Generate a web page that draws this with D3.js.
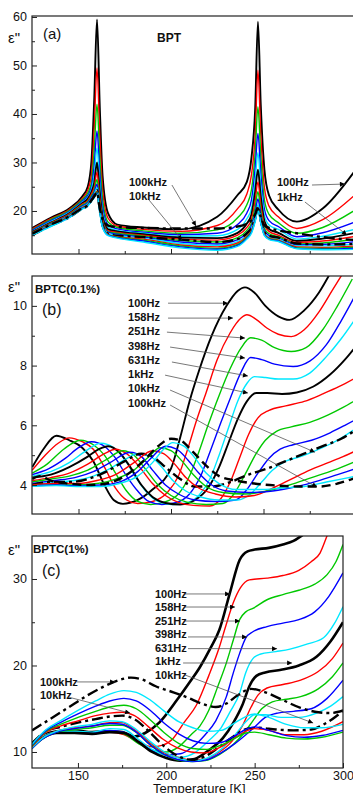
<!DOCTYPE html>
<html>
<head>
<meta charset="utf-8">
<script src="https://cdn.jsdelivr.net/npm/d3@7"></script>
<style>
  body { margin: 0; background: #fff; }
  svg { display: block; font-family: "Liberation Sans", Arial, sans-serif; }
  .tick text { font-size: 12.5px; fill: #111; }
  .note { font-size: 11px; font-weight: bold; fill: #111; }
</style>
</head>
<body>
<div id="app"></div>
<script>
// frequencies, same order in every panel
const freqs = ['100Hz', '158Hz', '251Hz', '398Hz', '631Hz', '1kHz', '1.58kHz', '2.51kHz',
  '3.98kHz', '6.31kHz', '10kHz', '15.8kHz', '25.1kHz', '39.8kHz', '63.1kHz', '100kHz'];
const palette = ['#000000', '#ff0000', '#00c800', '#0000ff', '#00e8ff'];

const xTicks = [150, 200, 250, 300];
const xMinor = [175, 225, 275];

// (a) BPT : shared temperature grid, one row of eps'' per frequency
const tempA = [125, 135, 145, 152, 155, 157, 158.5, 160, 161.5, 163, 166, 171, 185, 205, 225, 236,
  241, 243.5, 245.5, 247, 248.5, 250.5, 253, 258, 268, 282, 300];
const epsA = [
  [16.5, 18.6, 20.5, 23.0, 25, 30.3, 43, 59.5, 41.4, 27.3, 19.5, 17.2, 16.6, 16.2, 18.8, 23.3, 26, 31, 41, 59, 42, 28.5, 23.2, 20.3, 17.8, 20.5, 28.6],
  [16.3, 18.4, 20.3, 22.6, 24.3, 27.5, 37.2, 49.5, 35.5, 24.6, 18.5, 16.9, 16.2, 15.8, 17, 20.5, 23.5, 27.5, 35.5, 49, 36, 24.8, 21, 18.8, 16.4, 18.2, 23.5],
  [16.1, 18.2, 20.1, 22.3, 23.7, 25.9, 32.7, 42, 31, 22.5, 17.7, 16.6, 15.9, 15.4, 16.1, 18.6, 21.3, 24.4, 32, 41.5, 31.5, 22.3, 19.3, 17.6, 15.4, 16.6, 20.3],
  [16, 18, 19.9, 22.0, 23.2, 25, 29.4, 36.5, 27.7, 20.9, 17.1, 16.3, 15.6, 15.1, 15.4, 17.2, 19.6, 22.3, 28.9, 36, 27.9, 20.4, 18, 16.8, 14.7, 15.5, 17.8],
  [15.8, 17.8, 19.7, 21.8, 22.8, 24.4, 27.3, 33, 25.6, 19.8, 16.6, 16.0, 15.4, 14.8, 14.9, 16.2, 18.4, 20.5, 26.3, 32, 25.3, 19.1, 17.1, 16.2, 14.2, 14.8, 16.3],
  [15.7, 17.6, 19.5, 21.6, 22.5, 23.9, 25.8, 30, 23.8, 18.9, 16.2, 15.8, 15.2, 14.5, 14.4, 15.5, 17.4, 19.3, 24, 28.5, 23, 17.9, 16.3, 15.5, 13.8, 14.3, 15.5],
  [15.6, 17.5, 19.4, 21.4, 22.2, 23.5, 24.9, 28, 22.6, 18.3, 15.9, 15.6, 15, 14.2, 14, 15, 16.6, 18.3, 22.2, 26, 21.4, 17.1, 15.8, 15.0, 13.5, 13.8, 14.8],
  [15.5, 17.4, 19.2, 21.2, 21.9, 23.1, 24.2, 26.5, 21.6, 17.8, 15.7, 15.4, 14.8, 13.9, 13.6, 14.5, 16.0, 17.5, 20.8, 24, 20.1, 16.4, 15.3, 14.7, 13.2, 13.4, 14.2],
  [15.4, 17.3, 19.1, 21.0, 21.7, 22.8, 23.8, 25.5, 21.0, 17.5, 15.6, 15.2, 14.6, 13.6, 13.2, 14.1, 15.5, 16.9, 19.7, 22.5, 19.2, 15.9, 14.9, 14.4, 13, 13.1, 13.7],
  [15.3, 17.2, 19, 20.8, 21.5, 22.5, 23.4, 24.8, 20.6, 17.3, 15.4, 15.0, 14.4, 13.3, 12.9, 13.7, 15.1, 16.4, 18.8, 21.3, 18.4, 15.5, 14.6, 14.2, 12.8, 12.8, 13.2],
  [15, 17, 18.7, 20.5, 21.1, 22.2, 23.1, 24.3, 20.2, 17.1, 15.3, 14.9, 14.6, 14.1, 13.6, 14.2, 15.4, 16.5, 18.6, 20.8, 18.1, 15.6, 14.9, 14.5, 13.3, 13.1, 13.2],
  [15.2, 17.1, 18.9, 20.7, 21.3, 22.3, 23.1, 24.1, 20.1, 16.9, 15.2, 14.7, 14.2, 13, 12.6, 13.4, 14.8, 16.0, 18.3, 20.6, 17.8, 15.3, 14.4, 14.0, 12.6, 12.5, 12.8],
  [15.1, 17, 18.8, 20.6, 21.2, 22.2, 23.0, 23.9, 19.9, 16.8, 15.1, 14.6, 14, 12.8, 12.3, 13.1, 14.6, 15.8, 18.1, 20.4, 17.7, 15.1, 14.3, 13.9, 12.4, 12.3, 12.5],
  [15.1, 16.9, 18.7, 20.5, 21.1, 22.1, 22.9, 23.7, 19.8, 16.7, 15.0, 14.5, 13.8, 12.6, 12.1, 12.9, 14.4, 15.6, 18.0, 20.3, 17.6, 15.0, 14.2, 13.8, 12.3, 12.1, 12.3],
  [15, 16.8, 18.6, 20.4, 21.0, 22.0, 22.8, 23.5, 19.6, 16.6, 14.9, 14.4, 13.6, 12.4, 11.9, 12.7, 14.2, 15.4, 17.8, 20.2, 17.5, 14.9, 14.1, 13.7, 12.2, 12, 12.1],
  [15.3, 17.2, 18.9, 20.6, 21.2, 22.2, 23.0, 23.8, 20.5, 18.3, 17.0, 16.7, 16.5, 16.4, 16.4, 16.8, 17.4, 18.1, 19.3, 20.5, 18.8, 17.0, 16.5, 16.0, 15.4, 14.6, 14],
];

// (b) BPTC(0.1%) : [temperature, eps''] per frequency
const curvesB = [
  [[125, 4.6], [131, 5.2], [138, 5.65], [145, 5.5], [152, 5.25], [158, 4.8], [164, 4.0], [169, 3.5], [174, 3.37], [182, 3.5], [190, 3.85], [200, 4.55], [205, 5.6], [210, 6.8], [215, 7.8], [222, 9.0], [230, 10.0], [236, 10.5], [240, 10.62], [245, 10.45], [251, 10.0], [258, 9.65], [264, 9.53], [272, 9.85], [280, 10.45], [287, 11.2]],
  [[125, 4.5], [132, 5.0], [139, 5.4], [145, 5.58], [152, 5.45], [158, 5.2], [164, 4.6], [170, 3.9], [176, 3.5], [182, 3.38], [190, 3.45], [198, 3.75], [204, 4.3], [209, 5.2], [214, 6.2], [219, 7.1], [225, 8.2], [232, 9.1], [238, 9.6], [241, 9.7], [246, 9.55], [252, 9.25], [258, 9.05], [265, 8.97], [272, 9.2], [280, 9.8], [287, 10.5], [293, 11.1]],
  [[125, 4.4], [133, 4.7], [142, 5.2], [151, 5.5], [158, 5.35], [164, 5.0], [170, 4.4], [176, 3.8], [182, 3.45], [189, 3.35], [196, 3.42], [204, 3.7], [210, 4.3], [215, 5.1], [220, 6.0], [226, 7.0], [232, 7.9], [238, 8.6], [243, 8.93], [249, 8.85], [256, 8.6], [265, 8.47], [273, 8.6], [282, 9.2], [290, 10.0], [298, 10.9]],
  [[125, 4.35], [134, 4.55], [143, 4.9], [150, 5.25], [157, 5.45], [164, 5.3], [170, 4.9], [176, 4.3], [182, 3.8], [188, 3.45], [195, 3.35], [203, 3.42], [210, 3.7], [216, 4.3], [221, 5.1], [227, 6.1], [232, 6.9], [238, 7.8], [243, 8.27], [249, 8.2], [256, 8.05], [266, 7.97], [275, 8.15], [284, 8.7], [292, 9.5], [300, 10.4]],
  [[125, 4.3], [135, 4.45], [145, 4.75], [153, 5.1], [162, 5.4], [169, 5.25], [175, 4.85], [181, 4.25], [187, 3.75], [193, 3.45], [200, 3.35], [208, 3.4], [215, 3.65], [221, 4.2], [226, 5.0], [231, 5.9], [236, 6.8], [241, 7.4], [245, 7.63], [251, 7.6], [258, 7.55], [266, 7.55], [275, 7.75], [284, 8.3], [292, 8.9], [300, 9.6]],
  [[125, 4.25], [135, 4.35], [145, 4.6], [155, 4.95], [161, 5.2], [166, 5.3], [172, 5.1], [178, 4.6], [184, 4.0], [190, 3.6], [197, 3.4], [205, 3.35], [213, 3.5], [220, 3.9], [226, 4.6], [231, 5.4], [236, 6.2], [241, 6.8], [246, 7.08], [252, 7.08], [260, 7.05], [268, 7.1], [277, 7.3], [286, 7.7], [294, 8.2], [300, 8.65]],
  [[125, 4.15], [135, 4.25], [145, 4.4], [155, 4.7], [164, 5.05], [170, 5.2], [176, 5.05], [183, 4.6], [190, 4.05], [197, 3.65], [204, 3.42], [212, 3.32], [221, 3.3], [227, 3.55], [232, 4.1], [237, 4.9], [242, 5.7], [247, 6.25], [253, 6.5], [262, 6.65], [272, 6.8], [282, 7.05], [291, 7.3], [300, 7.6]],
  [[125, 4.1], [135, 4.2], [145, 4.3], [155, 4.5], [165, 4.85], [174, 5.15], [180, 5.0], [186, 4.55], [193, 4.0], [200, 3.65], [209, 3.42], [219, 3.35], [228, 3.38], [234, 3.7], [240, 4.35], [246, 5.05], [251, 5.5], [257, 5.8], [265, 5.95], [275, 6.1], [285, 6.35], [293, 6.6], [300, 6.85]],
  [[125, 4.05], [137, 4.15], [148, 4.25], [158, 4.45], [167, 4.75], [178, 5.1], [184, 4.95], [190, 4.5], [197, 4.0], [204, 3.7], [213, 3.5], [224, 3.45], [235, 3.5], [241, 3.85], [247, 4.4], [253, 4.9], [259, 5.2], [266, 5.35], [276, 5.5], [286, 5.75], [294, 6.0], [300, 6.2]],
  [[125, 4.0], [137, 4.1], [148, 4.15], [158, 4.3], [167, 4.55], [175, 4.85], [182, 5.05], [189, 4.95], [195, 4.6], [201, 4.15], [208, 3.8], [216, 3.6], [226, 3.5], [236, 3.5], [243, 3.7], [249, 4.1], [255, 4.5], [262, 4.8], [270, 4.95], [280, 5.2], [290, 5.5], [300, 5.9]],
  [[125, 4.0], [135, 4.1], [145, 4.1], [155, 4.2], [165, 4.45], [175, 4.8], [184, 5.05], [190, 4.95], [197, 4.6], [205, 4.2], [213, 3.95], [222, 3.95], [232, 4.1], [242, 4.35], [252, 4.55], [262, 4.8], [272, 5.05], [282, 5.3], [292, 5.55], [300, 5.85]],
  [[125, 4.0], [138, 4.05], [150, 4.05], [160, 4.15], [170, 4.35], [180, 4.75], [190, 5.15], [196, 5.05], [202, 4.7], [208, 4.25], [215, 3.9], [224, 3.7], [235, 3.6], [245, 3.65], [255, 3.9], [265, 4.2], [275, 4.5], [285, 4.75], [293, 4.95], [300, 5.15]],
  [[125, 3.98], [138, 4.0], [150, 4.0], [160, 4.05], [170, 4.2], [180, 4.5], [188, 4.95], [194, 5.25], [200, 5.15], [206, 4.8], [212, 4.35], [219, 3.95], [228, 3.75], [240, 3.7], [252, 3.8], [264, 4.0], [276, 4.25], [288, 4.5], [300, 4.8]],
  [[125, 3.97], [138, 4.0], [150, 3.98], [162, 4.0], [172, 4.1], [182, 4.45], [190, 4.95], [197, 5.3], [203, 5.2], [209, 4.85], [215, 4.4], [222, 4.0], [230, 3.8], [242, 3.75], [255, 3.8], [268, 3.95], [280, 4.15], [290, 4.35], [300, 4.55]],
  [[125, 3.96], [138, 3.98], [150, 3.95], [162, 3.95], [172, 4.05], [182, 4.3], [190, 4.75], [196, 5.2], [201, 5.42], [207, 5.3], [213, 4.9], [219, 4.4], [226, 4.05], [235, 3.85], [248, 3.85], [260, 3.9], [272, 3.95], [284, 4.1], [300, 4.3]],
  [[125, 4.2], [129, 4.3], [135, 4.15], [145, 4.05], [155, 4.0], [165, 4.05], [175, 4.3], [185, 4.8], [193, 5.3], [200, 5.55], [205, 5.5], [212, 5.1], [219, 4.65], [226, 4.3], [235, 4.15], [245, 4.05], [258, 3.98], [270, 3.95], [280, 3.95], [290, 4.05], [300, 4.25]],
];

// (c) BPTC(1%)
const curvesC = [
  [[124, 11.0], [130, 11.9], [138, 12.4], [148, 12.5], [158, 12.3], [168, 12.4], [175, 12.3], [182, 11.8], [188, 12.2], [196, 13.4], [206, 16], [213, 18], [219, 19.8], [225, 22], [230, 24.1], [236, 28.4], [241.5, 32.2], [246, 33.2], [250, 33.4], [258, 33.6], [266, 34], [272, 34.4], [278, 35.2], [285, 36]],
  [[124, 10.8], [130, 11.8], [138, 12.3], [148, 12.4], [158, 12.2], [168, 12.3], [176, 12.0], [184, 11.2], [192, 10.6], [198, 10.8], [204, 11.6], [210, 13.4], [217, 15.4], [224, 18.8], [230, 22.1], [234, 24.8], [238, 27.3], [242, 29.0], [247, 29.9], [257, 30.1], [266, 30.4], [275, 31], [282, 32], [287, 33], [291, 35], [294, 36.5]],
  [[124, 10.7], [130, 11.7], [138, 12.3], [148, 12.4], [158, 12.2], [168, 12.4], [176, 12.1], [184, 11.0], [192, 10.2], [200, 10.0], [207, 10.6], [214, 12.0], [219, 13.0], [224, 14.8], [229, 17.5], [234, 20.3], [238, 23], [241.5, 25.3], [245, 26.2], [249, 26.6], [257, 27.6], [266, 28.2], [275, 28.7], [284, 29.4], [291, 30.5], [296, 32], [300, 34]],
  [[124, 10.6], [130, 11.6], [138, 12.2], [148, 12.3], [158, 12.2], [168, 12.5], [176, 12.3], [184, 11.2], [192, 10.2], [200, 9.7], [208, 9.8], [215, 10.6], [222, 12.0], [228, 13.6], [234, 16.4], [238, 19.2], [241.5, 21.4], [245, 23.2], [249, 23.9], [257, 24.5], [266, 24.9], [275, 25.3], [284, 26.2], [292, 28], [300, 30.7]],
  [[124, 10.8], [130, 11.8], [138, 12.3], [148, 12.4], [158, 12.3], [168, 12.7], [176, 12.6], [184, 11.5], [192, 10.3], [200, 9.6], [208, 9.4], [216, 9.9], [224, 11.3], [231, 12.8], [236, 14.6], [241.5, 16.8], [245, 19.2], [249, 20.8], [253, 21.3], [262, 21.6], [270, 21.9], [280, 22.5], [289, 23.2], [295, 24.8], [300, 26.8]],
  [[124, 10.6], [130, 11.6], [138, 12.2], [148, 12.2], [158, 12.1], [168, 12.3], [176, 12.2], [184, 11.2], [192, 10.0], [200, 9.3], [208, 9.0], [216, 9.2], [224, 10.2], [232, 11.6], [238, 13.4], [243, 15.4], [247, 17.6], [251, 18.8], [256, 19.2], [265, 19.5], [275, 20], [285, 21], [293, 22.8], [300, 25]],
  [[124, 10.5], [130, 11.6], [138, 12.4], [148, 12.8], [158, 13.0], [168, 13.4], [175, 13.4], [182, 12.6], [190, 11.2], [198, 10.0], [206, 9.4], [214, 9.1], [222, 9.2], [230, 10.0], [237, 11.2], [243, 13.0], [248, 15.2], [252, 16.6], [257, 17.4], [266, 17.8], [276, 18.3], [286, 19.3], [294, 20.8], [300, 22.6]],
  [[124, 10.4], [130, 11.5], [138, 12.3], [148, 12.6], [158, 12.8], [168, 13.1], [175, 13.1], [182, 12.4], [190, 11.0], [198, 9.8], [206, 9.1], [214, 8.9], [222, 9.0], [230, 9.7], [238, 10.9], [244, 12.2], [249, 13.6], [254, 15.0], [260, 15.8], [268, 16.1], [276, 16.4], [286, 17.3], [294, 18.7], [300, 20.3]],
  [[124, 10.4], [130, 11.5], [138, 12.3], [148, 12.7], [158, 13.0], [168, 13.3], [175, 13.2], [183, 12.3], [191, 10.8], [199, 9.7], [207, 9.1], [215, 8.9], [223, 9.1], [231, 9.9], [239, 11.0], [245, 12.0], [250, 12.9], [256, 14.0], [263, 14.5], [272, 14.7], [282, 15.0], [291, 16.2], [300, 18.3]],
  [[124, 10.5], [130, 11.6], [138, 12.4], [148, 12.9], [158, 13.2], [168, 13.6], [175, 13.5], [183, 12.6], [191, 11.2], [199, 10.0], [207, 9.3], [215, 9.0], [223, 9.3], [231, 10.3], [239, 12.0], [245, 13.5], [250, 14.3], [256, 14.3], [265, 14.0], [275, 14.0], [285, 14.5], [293, 15.3], [300, 16.4]],
  [[124, 11.0], [132, 12.4], [140, 12.9], [150, 13.4], [160, 13.8], [168, 14.1], [175, 14.2], [182, 13.8], [190, 12.4], [198, 10.8], [206, 9.6], [214, 9.1], [222, 9.5], [230, 10.6], [238, 11.8], [246, 12.7], [252, 12.8], [262, 12.6], [272, 12.5], [282, 12.6], [290, 13.3], [296, 14.1], [300, 14.8]],
  [[124, 10.6], [132, 12.3], [140, 13.0], [150, 13.6], [160, 14.2], [168, 14.5], [175, 14.6], [182, 14.2], [190, 12.9], [198, 11.5], [206, 10.5], [214, 10.0], [222, 9.9], [230, 10.5], [238, 11.5], [244, 12.3], [250, 12.7], [258, 12.5], [268, 12.0], [278, 12.0], [288, 12.4], [300, 13.5]],
  [[124, 10.7], [132, 12.4], [140, 13.2], [150, 14.0], [160, 14.7], [168, 15.2], [176, 15.4], [183, 15.0], [191, 13.7], [199, 12.2], [207, 11.0], [215, 10.4], [223, 10.3], [231, 10.8], [239, 11.6], [245, 12.2], [250, 12.3], [258, 12.0], [268, 11.6], [278, 11.5], [288, 11.7], [300, 12.3]],
  [[124, 10.8], [132, 12.5], [140, 13.4], [150, 14.4], [160, 15.3], [168, 15.9], [176, 16.2], [183, 15.9], [191, 14.8], [199, 13.3], [207, 12.1], [215, 11.3], [223, 11.0], [231, 11.1], [239, 11.9], [245, 12.6], [250, 12.9], [258, 12.5], [268, 11.9], [278, 11.7], [288, 11.9], [300, 12.5]],
  [[124, 10.9], [132, 12.6], [140, 13.6], [150, 14.8], [160, 15.9], [168, 16.7], [176, 17.1], [183, 16.9], [191, 16.0], [199, 14.7], [207, 13.5], [215, 12.8], [223, 12.4], [231, 12.5], [239, 13.4], [245, 14.1], [250, 14.4], [258, 14.0], [268, 13.2], [278, 12.8], [288, 12.8], [300, 13.2]],
  [[124, 12.5], [135, 13.9], [145, 15.2], [155, 16.5], [165, 17.6], [173, 18.3], [180, 18.6], [186, 18.4], [194, 17.6], [204, 16.9], [212, 16.3], [220, 15.6], [228, 15.2], [234, 15.6], [240, 16.5], [248, 17.3], [256, 16.9], [266, 16.0], [276, 15.1], [286, 14.6], [293, 14.5], [300, 14.8]],
];

// labels with arrows, in data units: text at (tx, ty), arrow from (x1, y1) to (x2, y2)
const notesA = [
  { text: '100kHz', tx: 177.3, ty: 25.15, x1: 200.5, y1: 25.35, x2: 213.5, y2: 16.9 },
  { text: '10kHz', tx: 177.3, ty: 22.3, x1: 187.6, y1: 22.5, x2: 205.9, y2: 14.0 },
  { text: '100Hz', tx: 257.3, ty: 25.15, x1: 276.2, y1: 25.35, x2: 294.0, y2: 25.55 },
  { text: '1kHz', tx: 257.3, ty: 22.1, x1: 272.4, y1: 21.85, x2: 295.1, y2: 15.05 },
];
const notesB = [
  { text: '100Hz', tx: 176.8, ty: 9.97, x1: 198.4, y1: 10.09, x2: 230.8, y2: 10.09 },
  { text: '158Hz', tx: 176.8, ty: 9.49, x1: 198.4, y1: 9.59, x2: 233.5, y2: 9.59 },
  { text: '251Hz', tx: 176.8, ty: 9.02, x1: 197.8, y1: 9.12, x2: 240.0, y2: 8.92 },
  { text: '398Hz', tx: 176.8, ty: 8.53, x1: 199.5, y1: 8.62, x2: 240.0, y2: 8.25 },
  { text: '631Hz', tx: 176.8, ty: 8.05, x1: 200.5, y1: 8.12, x2: 241.6, y2: 7.65 },
  { text: '1kHz', tx: 176.8, ty: 7.57, x1: 196.8, y1: 7.68, x2: 241.6, y2: 7.08 },
  { text: '10kHz', tx: 176.8, ty: 7.10, x1: 199.5, y1: 7.18, x2: 277.8, y2: 5.1 },
  { text: '100kHz', tx: 176.8, ty: 6.60, x1: 199.5, y1: 6.68, x2: 278.9, y2: 3.93 },
];
const notesC = [
  { text: '100Hz', tx: 193.6, ty: 27.8, x1: 210.6, y1: 28.27, x2: 236.1, y2: 28.27 },
  { text: '158Hz', tx: 193.6, ty: 26.3, x1: 210.6, y1: 26.76, x2: 238.9, y2: 26.76 },
  { text: '251Hz', tx: 193.6, ty: 24.7, x1: 210.6, y1: 25.14, x2: 241.7, y2: 25.14 },
  { text: '398Hz', tx: 193.6, ty: 23.14, x1: 212.3, y1: 23.3, x2: 245.7, y2: 23.3 },
  { text: '631Hz', tx: 193.6, ty: 21.6, x1: 212.3, y1: 21.95, x2: 262.7, y2: 21.95 },
  { text: '1kHz', tx: 193.6, ty: 20.0, x1: 209.5, y1: 20.29, x2: 271.2, y2: 20.29 },
  { text: '10kHz', tx: 193.6, ty: 18.44, x1: 210.6, y1: 18.9, x2: 283.1, y2: 13.35 },
  { text: '100kHz', tx: 128.5, ty: 17.63, x1: 149.5, y1: 18.1, x2: 171.0, y2: 18.1 },
  { text: '10kHz', tx: 128.5, ty: 16.13, x1: 144.4, y1: 16.36, x2: 179.5, y2: 14.5 },
];

// canvas
const width = 353;
const height = 793;

const svg = d3.select('#app').append('svg').attr('width', width).attr('height', height);
svg.append('rect').attr('width', width).attr('height', height).attr('fill', '#fff');

const defs = svg.append('defs');
defs
  .append('marker')
  .attr('id', 'arrow')
  .attr('viewBox', '0 0 10 10')
  .attr('refX', 10)
  .attr('refY', 5)
  .attr('markerUnits', 'userSpaceOnUse')
  .attr('markerWidth', 7)
  .attr('markerHeight', 5)
  .attr('orient', 'auto')
  .append('path')
  .attr('d', 'M0,0 L10,5 L0,10 z')
  .attr('fill', '#000');

// scales
const xAB = d3.scaleLinear().domain([124.86, 300]).range([32, 356]);
const xC = d3.scaleLinear().domain([124, 300]).range([32, 343]);

const panels = [
  {
    id: 'a',
    x: xAB,
    y: d3.scaleLinear().domain([11.13, 60.2]).range([254, 16]),
    yTicks: [20, 30, 40, 50, 60],
    yMinor: [15, 25, 35, 45, 55],
    series: epsA.map((row) => row.map((v, i) => [tempA[i], v])),
    dash100k: '11,4,3,4',
    notes: notesA,
    xLabels: false,
  },
  {
    id: 'b',
    x: xAB,
    y: d3.scaleLinear().domain([3.03, 11.0]).range([514, 276]),
    yTicks: [4, 6, 8, 10],
    yMinor: [5, 7, 9],
    series: curvesB,
    dash100k: '9,5',
    notes: notesB,
    xLabels: false,
  },
  {
    id: 'c',
    x: xC,
    y: d3.scaleLinear().domain([8.15, 34.97]).range([768, 536]),
    yTicks: [10, 20, 30],
    yMinor: [15, 25],
    series: curvesC,
    dash100k: '11,4,3,4',
    notes: notesC,
    xLabels: true,
  },
];

const lineStyle = (panel, i) => {
  const style = { color: palette[i % 5], width: 1.4, dash: null };
  if (i === 0 || i === 5) style.width = panel.id === 'c' ? 2.6 : 1.9;
  if (i === 10) Object.assign(style, { width: 2.4, dash: '11,4,3,4' });
  if (i === 15) Object.assign(style, { width: 2.4, dash: panel.dash100k });
  return style;
};

panels.forEach((p) => {
  const [x0, x1] = p.x.range();
  const [y0, y1] = p.y.range();
  const g = svg.append('g').attr('class', `panel-${p.id}`);

  defs
    .append('clipPath')
    .attr('id', `clip-${p.id}`)
    .append('rect')
    .attr('x', x0)
    .attr('y', y1)
    .attr('width', x1 - x0)
    .attr('height', y0 - y1);

  // curves
  const line = d3
    .line()
    .x((d) => p.x(d[0]))
    .y((d) => p.y(d[1]))
    .curve(d3.curveMonotoneX);

  g.append('g')
    .attr('clip-path', `url(#clip-${p.id})`)
    .selectAll('path')
    .data(p.series)
    .join('path')
    .attr('d', line)
    .attr('fill', 'none')
    .each(function (d, i) {
      const s = lineStyle(p, i);
      d3.select(this)
        .attr('stroke', s.color)
        .attr('stroke-width', s.width)
        .attr('stroke-dasharray', s.dash)
        .attr('stroke-linejoin', 'round');
    });

  // axes, ticks pointing inward
  g.append('g')
    .attr('transform', `translate(${x0},0)`)
    .call(d3.axisLeft(p.y).tickValues(p.yTicks).tickSize(-5).tickPadding(5).tickSizeOuter(0));
  g.append('g')
    .attr('transform', `translate(${x0},0)`)
    .call(d3.axisLeft(p.y).tickValues(p.yMinor).tickSize(-3).tickFormat('').tickSizeOuter(0));

  const xAxis = g
    .append('g')
    .attr('transform', `translate(0,${y0})`)
    .call(
      d3
        .axisBottom(p.x)
        .tickValues(xTicks)
        .tickSize(-5)
        .tickPadding(3)
        .tickSizeOuter(0)
        .tickFormat(p.xLabels ? d3.format('d') : '')
    );
  g.append('g')
    .attr('transform', `translate(0,${y0})`)
    .call(d3.axisBottom(p.x).tickValues(xMinor).tickSize(-3).tickFormat('').tickSizeOuter(0));

  g.selectAll('.domain').remove();
  g.selectAll('.tick line').attr('stroke', '#222');
  xAxis.selectAll('.tick text').attr('font-size', 13);

  // frame
  g.append('rect')
    .attr('x', x0)
    .attr('y', y1)
    .attr('width', x1 - x0)
    .attr('height', y0 - y1)
    .attr('fill', 'none')
    .attr('stroke', '#222')
    .attr('stroke-width', 1.2);

  // annotations
  const notes = g.append('g').attr('class', 'notes');
  notes
    .selectAll('line')
    .data(p.notes)
    .join('line')
    .attr('x1', (d) => p.x(d.x1))
    .attr('y1', (d) => p.y(d.y1))
    .attr('x2', (d) => p.x(d.x2))
    .attr('y2', (d) => p.y(d.y2))
    .attr('stroke', '#555')
    .attr('stroke-width', 0.8)
    .attr('marker-end', 'url(#arrow)');
  notes
    .selectAll('text')
    .data(p.notes)
    .join('text')
    .attr('class', 'note')
    .attr('x', (d) => p.x(d.tx))
    .attr('y', (d) => p.y(d.ty))
    .text((d) => d.text);
});

// titles and axis names
const texts = [
  { t: 'ε"', x: 8, y: 43, size: 15, weight: 'normal' },
  { t: '(a)', x: 43, y: 39, size: 15, weight: 'normal' },
  { t: 'BPT', x: 157, y: 42, size: 12, weight: 'bold' },
  { t: 'ε"', x: 8, y: 292, size: 15, weight: 'normal' },
  { t: 'BPTC(0.1%)', x: 35, y: 293, size: 11.5, weight: 'bold' },
  { t: '(b)', x: 42, y: 315, size: 16, weight: 'normal' },
  { t: 'ε"', x: 8, y: 555, size: 15, weight: 'normal' },
  { t: 'BPTC(1%)', x: 33, y: 553, size: 11.5, weight: 'bold' },
  { t: '(c)', x: 42, y: 576, size: 16, weight: 'normal' },
];
svg
  .append('g')
  .selectAll('text')
  .data(texts)
  .join('text')
  .attr('x', (d) => d.x)
  .attr('y', (d) => d.y)
  .attr('font-size', (d) => d.size)
  .attr('font-weight', (d) => d.weight)
  .attr('fill', '#111')
  .text((d) => d.t);

svg
  .append('text')
  .attr('x', xC(200) + 33)
  .attr('y', 793)
  .attr('text-anchor', 'middle')
  .attr('font-size', 13)
  .attr('fill', '#111')
  .text('Temperature [K]');
</script>
</body>
</html>
